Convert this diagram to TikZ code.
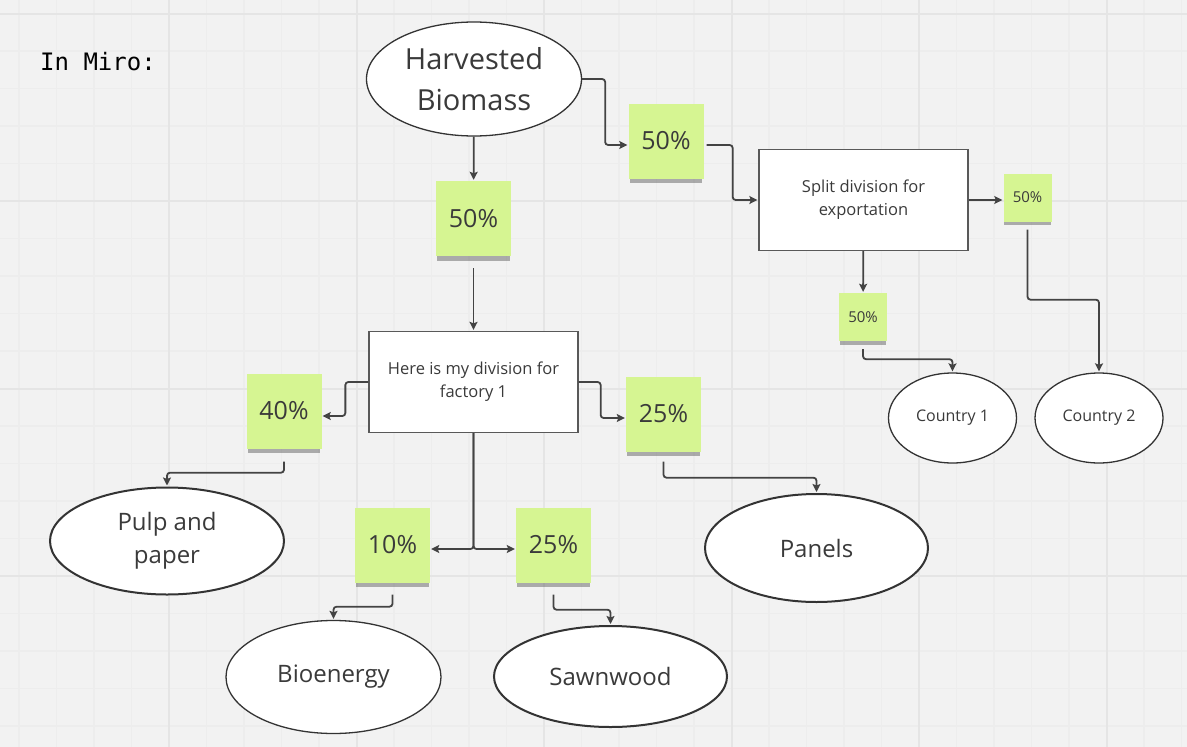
\documentclass[tikz,border=0pt]{standalone}
\usepackage{fontspec}
\setmainfont{Open Sans}
\setmonofont{DejaVu Sans Mono}
\usepackage{tikz}
\usepackage{xcolor}
\usetikzlibrary{shapes.geometric, arrows, arrows.meta, shadows}
\definecolor{boardgray}{HTML}{F2F2F2}
\definecolor{minorline}{HTML}{EDEDED}
\definecolor{majorline}{HTML}{E5E5E5}
\definecolor{stickygreen}{HTML}{D6F592}
\definecolor{textgray}{HTML}{3A3A3A}
\definecolor{linegray}{HTML}{434343}
\tikzstyle{minorgrid} = [draw=minorline, line width=1.4pt]
\tikzstyle{majorgrid} = [draw=majorline, line width=2pt]
\tikzstyle{sticky} = [rectangle, minimum width=75pt, minimum height=75pt, text centered, fill=stickygreen, text=textgray, font=\fontsize{25}{30}\selectfont, drop shadow={shadow xshift=0pt, shadow yshift=-6pt, shadow scale=0.97, fill=black!75, opacity=0.4}]
\tikzstyle{smallsticky} = [rectangle, minimum width=48pt, minimum height=48pt, text centered, fill=stickygreen, text=textgray, font=\fontsize{15}{18}\selectfont, drop shadow={shadow xshift=0pt, shadow yshift=-5pt, shadow scale=0.96, fill=black!75, opacity=0.4}]
\tikzstyle{division} = [rectangle, minimum width=209pt, minimum height=101pt, text centered, draw=black!65, line width=1.3pt, fill=white, text=textgray, font=\fontsize{16.5}{23}\selectfont]
\tikzstyle{outcome} = [ellipse, inner sep=0pt, text centered, draw=black!80, line width=1.3pt, fill=white, text=textgray, font=\fontsize{24}{33}\selectfont]
\tikzstyle{arrow} = [draw=linegray, line width=1.8pt, ->, >={Stealth[length=8pt, width=8pt, inset=1.5pt]}, rounded corners=3pt, shorten >=1pt]

\begin{document}
\begin{tikzpicture}[x=1pt, y=-1pt]
        \useasboundingbox (0,0) rectangle (1187,747);
        \fill [boardgray] (0,0) rectangle (1187,747);
        \foreach \i in {0,...,31}
            \draw [minorgrid] ({19+37.5*\i},0) -- ({19+37.5*\i},747);
        \foreach \j in {0,...,19}
            \draw [minorgrid] (0,{13.5+37.5*\j}) -- (1187,{13.5+37.5*\j});
        \foreach \i in {0,...,5}
            \draw [majorgrid] ({169+187.5*\i},0) -- ({169+187.5*\i},747);
        \foreach \j in {0,...,3}
            \draw [majorgrid] (0,{13.5+187.5*\j}) -- (1187,{13.5+187.5*\j});

        \node (in_miro) [anchor=base west, inner sep=0pt, font=\ttfamily\fontsize{24}{28}\selectfont] at (40,70) {In Miro:};
        \node (harvested) [outcome, minimum width=215pt, minimum height=114pt, font=\fontsize{29}{41}\selectfont, align=center] at (474,79) {Harvested\\Biomass};
        \node (pct_factory) [sticky] at (473.5,218.5) {50\%};
        \node (factory_div) [division, align=center] at (473.5,382) {Here is my division for\\factory 1};
        \node (pct_pulp) [sticky] at (284,411) {40\%};
        \node (pulp_paper) [outcome, line width=2pt, minimum width=234pt, minimum height=107pt, align=center] at (167,541) {Pulp and\\paper};
        \node (pct_panels) [sticky] at (663.5,414) {25\%};
        \node (panels) [outcome, line width=2pt, minimum width=223pt, minimum height=108pt] at (816.5,548) {Panels};
        \node (pct_bio) [sticky] at (392.5,545) {10\%};
        \node (bioenergy) [outcome, minimum width=215pt, minimum height=113pt] at (333.5,677) {Bioenergy};
        \node (pct_saw) [sticky] at (553.5,545) {25\%};
        \node (sawnwood) [outcome, line width=2pt, minimum width=233pt, minimum height=101pt] at (610.5,676.5) {Sawnwood};
        \node (pct_export) [sticky] at (666,141) {50\%};
        \node (export_div) [division, align=center] at (863.5,200) {Split division for\\exportation};
        \node (pct_country2) [smallsticky] at (1027.5,197.5) {50\%};
        \node (pct_country1) [smallsticky] at (863,317) {50\%};
        \node (country1) [outcome, minimum width=128pt, minimum height=90pt, font=\fontsize{16}{20}\selectfont] at (952.5,418) {Country 1};
        \node (country2) [outcome, minimum width=128pt, minimum height=90pt, font=\fontsize{16}{20}\selectfont] at (1099,418) {Country 2};

        \draw [arrow] (harvested) -- (pct_factory);
        \draw [arrow, shorten <=12pt] (pct_factory) -- (factory_div);
        \draw [arrow] (factory_div.west) -- ++(-23,0) |- ([yshift=-5pt]pct_pulp.east);
        \draw [arrow, shorten <=13pt] (pct_pulp.south) -- ++(0,24) -| (pulp_paper.north);
        \draw [arrow] (factory_div.east) -- ++(22,0) |- ([yshift=-4pt]pct_panels.west);
        \draw [arrow, shorten <=10pt] (pct_panels.south) -- ++(0,26) -| (panels.north);
        \draw [arrow] (factory_div.south) |- ([yshift=-4pt]pct_bio.east);
        \draw [arrow] (factory_div.south) |- ([yshift=-4pt]pct_saw.west);
        \draw [arrow, shorten <=12pt] (pct_bio.south) -- ++(0,24) -| (bioenergy.north);
        \draw [arrow, shorten <=12pt] (pct_saw.south) -- ++(0,27) -| (sawnwood.north);
        \draw [arrow] (harvested.east) -- ++(23,0) |- ([yshift=-4pt]pct_export.west);
        \draw [arrow, shorten <=3pt] ([yshift=-4pt]pct_export.east) -- ++(29,0) |- (export_div.west);
        \draw [arrow] (export_div.east) -- (export_div.east -| pct_country2.west);
        \draw [arrow] (export_div) -- (pct_country1);
        \draw [arrow, shorten <=8pt] (pct_country1.south) -- ++(0,18) -| (country1.north);
        \draw [arrow, shorten <=8pt] (pct_country2.south) -- ++(0,78) -| (country2.north);

    \end{tikzpicture}
\end{document}
